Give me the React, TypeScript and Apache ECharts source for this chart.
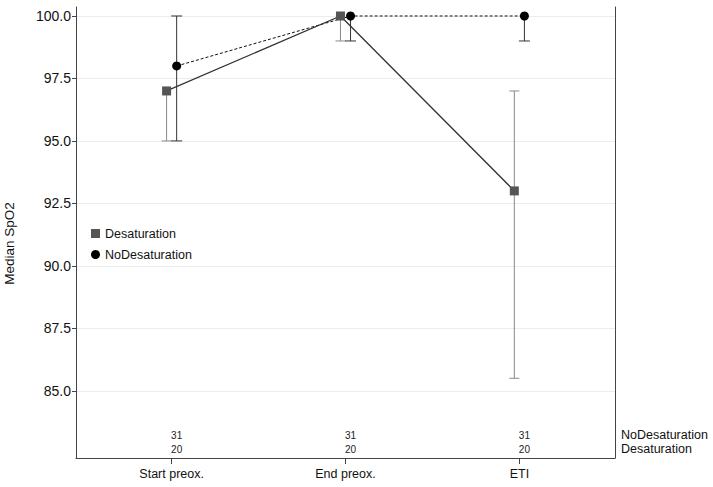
import React, { useEffect, useRef } from "react";
import * as echarts from "echarts";

const categories = ["Start preox.", "End preox.", "ETI"];
const desatMedian = [97, 100, 93];
const desatLow = [95, 99, 85.5];
const desatHigh = [97, 100, 97];
const noDesatMedian = [98, 100, 100];
const noDesatLow = [95, 99, 99];
const noDesatHigh = [100, 100, 100];
const noDesatN = [31, 31, 31];
const desatN = [20, 20, 20];
const yTicks = [85, 87.5, 90, 92.5, 95, 97.5, 100];

const Y_MIN = 82.31;
const Y_MAX = 100.36;
const X_MIN = 0.45;
const X_MAX = 3.55;
const DODGE = 0.029;
const FONT = "Liberation Sans, Arial, sans-serif";

export default function App() {
  const ref = useRef<HTMLDivElement>(null);
  useEffect(() => {
    if (!ref.current) return;
    const chart = echarts.init(ref.current, undefined, { renderer: "svg" });

    const desatX = categories.map((_, i) => i + 1 - DODGE);
    const noDesatX = categories.map((_, i) => i + 1 + DODGE);

    const errRender = (color: string, capW: number) => (params: any, api: any) => {
      const x = api.value(0);
      const lo = api.value(1);
      const hi = api.value(2);
      const med = api.value(3);
      const pLo = api.coord([x, lo]);
      const pHi = api.coord([x, hi]);
      const style = { stroke: color, lineWidth: 1 };
      const children: any[] = [
        { type: "line", shape: { x1: pLo[0], y1: pLo[1], x2: pHi[0], y2: pHi[1] }, style },
      ];
      if (lo !== med)
        children.push({ type: "line", shape: { x1: pLo[0] - capW / 2, y1: pLo[1], x2: pLo[0] + capW / 2, y2: pLo[1] }, style });
      if (hi !== med)
        children.push({ type: "line", shape: { x1: pHi[0] - capW / 2, y1: pHi[1], x2: pHi[0] + capW / 2, y2: pHi[1] }, style });
      return { type: "group", children };
    };

    const countRender = (dy: number) => (params: any, api: any) => {
      const p = api.coord([api.value(0), Y_MIN]);
      return {
        type: "text",
        x: p[0],
        y: p[1] - dy,
        style: {
          text: String(api.value(1)),
          fill: "#222",
          font: `10px ${FONT}`,
          align: "center",
          verticalAlign: "middle",
        },
      };
    };

    chart.setOption({
      animation: false,
      backgroundColor: "#ffffff",
      textStyle: { fontFamily: FONT },
      grid: { left: 76, right: 98, top: 7, bottom: 29, containLabel: false, outerBoundsMode: "none" },
      legend: {
        left: 86,
        top: 222,
        orient: "vertical",
        itemWidth: 9,
        itemHeight: 9,
        itemGap: 8,
        textStyle: { fontSize: 12.5, color: "#111", fontFamily: FONT },
        data: [
          { name: "Desaturation", icon: "rect", itemStyle: { color: "#555555" } },
          { name: "NoDesaturation", icon: "circle", itemStyle: { color: "#000000" } },
        ],
      },
      xAxis: {
        type: "value",
        min: X_MIN,
        max: X_MAX,
        axisLine: { show: true, lineStyle: { color: "#444", width: 1 } },
        axisTick: { show: true, length: 6, customValues: [1, 2, 3], lineStyle: { color: "#444" } },
        axisLabel: {
          customValues: [1, 2, 3],
          formatter: (v: number) => categories[Math.round(v) - 1] ?? "",
          fontSize: 12.5,
          color: "#111",
          margin: 9,
          fontFamily: FONT,
        },
        splitLine: { show: false },
      },
      yAxis: [
        {
          type: "value",
          min: Y_MIN,
          max: Y_MAX,
          name: "Median SpO2",
          nameLocation: "middle",
          nameGap: 60,
          nameTextStyle: { fontSize: 13.5, color: "#111", fontFamily: FONT, padding: [0, 22, 0, 0] },
          axisLine: { show: true, lineStyle: { color: "#444", width: 1 } },
          axisTick: { show: true, length: 4, customValues: yTicks, lineStyle: { color: "#444" } },
          axisLabel: {
            customValues: yTicks,
            formatter: (v: number) => v.toFixed(1),
            fontSize: 14,
            color: "#111",
            margin: 5,
            fontFamily: FONT,
          },
          splitLine: { show: true, lineStyle: { color: "#ececec", width: 1 } },
        },
        {
          type: "value",
          position: "right",
          min: Y_MIN,
          max: Y_MAX,
          axisLine: { show: true, lineStyle: { color: "#444", width: 1 } },
          axisTick: { show: false },
          axisLabel: { show: false },
          splitLine: { show: false },
        },
      ],
      graphic: [
        {
          type: "text",
          left: 621,
          top: 428,
          style: { text: "NoDesaturation", font: `12.5px ${FONT}`, fill: "#111" },
        },
        {
          type: "text",
          left: 621,
          top: 442,
          style: { text: "Desaturation", font: `12.5px ${FONT}`, fill: "#111" },
        },
      ],
      series: [
        {
          name: "DesatErr",
          type: "custom",
          renderItem: errRender("#8a8a8a", 10),
          data: desatX.map((x, i) => [x, desatLow[i], desatHigh[i], desatMedian[i]]),
          z: 1,
          silent: true,
        },
        {
          name: "NoDesatErr",
          type: "custom",
          renderItem: errRender("#333333", 11),
          data: noDesatX.map((x, i) => [x, noDesatLow[i], noDesatHigh[i], noDesatMedian[i]]),
          z: 1,
          silent: true,
        },
        {
          name: "Desaturation",
          type: "line",
          data: desatX.map((x, i) => [x, desatMedian[i]]),
          symbol: "rect",
          symbolSize: 9,
          itemStyle: { color: "#555555" },
          lineStyle: { color: "#333333", width: 1.3, type: "solid" },
          z: 3,
        },
        {
          name: "NoDesaturation",
          type: "line",
          data: noDesatX.map((x, i) => [x, noDesatMedian[i]]),
          symbol: "circle",
          symbolSize: 9,
          itemStyle: { color: "#000000" },
          lineStyle: { color: "#111111", width: 1, type: [3, 2] },
          z: 2,
        },
        {
          name: "NoDesatN",
          type: "custom",
          renderItem: countRender(23),
          data: noDesatX.map((x, i) => [x, noDesatN[i]]),
          silent: true,
        },
        {
          name: "DesatN",
          type: "custom",
          renderItem: countRender(9),
          data: noDesatX.map((x, i) => [x, desatN[i]]),
          silent: true,
        },
      ],
    });
    return () => chart.dispose();
  }, []);

  return (
    <div
      ref={ref}
      style={{ position: "fixed", left: 0, top: 0, width: 713, height: 487, background: "#fff" }}
    />
  );
}
